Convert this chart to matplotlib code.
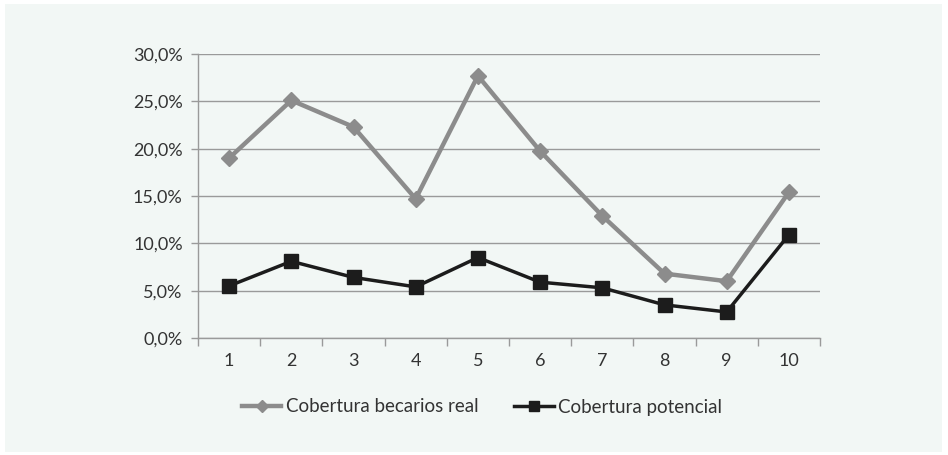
import matplotlib
matplotlib.use("Agg")
import matplotlib.pyplot as plt
from matplotlib.patches import Rectangle
from matplotlib.ticker import FuncFormatter, FixedLocator

categories = ["1", "2", "3", "4", "5", "6", "7", "8", "9", "10"]
becarios_real = [19.0, 25.1, 22.3, 14.7, 27.7, 19.75, 12.9, 6.8, 6.0, 15.4]
potencial = [5.5, 8.1, 6.4, 5.4, 8.5, 5.9, 5.3, 3.5, 2.75, 10.9]
series_names = ["Cobertura becarios real", "Cobertura potencial"]

plt.rcParams['font.family'] = ['Lato', 'DejaVu Sans']
bg = "#f2f7f5"
txt = "#333333"
grid_c = "#9a9a9a"

fig = plt.figure(figsize=(9.48, 4.55), dpi=100)
fig.patch.set_facecolor("white")
fig.add_artist(Rectangle((5/948, 1-452/455), (942-5)/948, (452-4)/455,
                         transform=fig.transFigure, facecolor=bg, edgecolor="none", zorder=-10))

ax = fig.add_axes([198/948, 1-338/455, (820-198)/948, (338-54)/455])
ax.set_facecolor("none")

x = list(range(1, len(categories) + 1))
ax.plot(x, becarios_real, color="#8c8c8c", lw=3.2, marker="D", ms=8.5,
        label=series_names[0], zorder=3)
ax.plot(x, potencial, color="#1c1c1c", lw=2.5, marker="s", ms=10.5,
        label=series_names[1], zorder=4)

ax.set_xlim(0.5, len(categories) + 0.5)
ax.set_ylim(0, 30)
ax.set_yticks([0, 5, 10, 15, 20, 25, 30])
ax.yaxis.set_major_formatter(FuncFormatter(lambda v, p: f"{v:.1f}%".replace(".", ",")))
ax.set_xticks(x)
ax.set_xticklabels(categories)
ax.xaxis.set_minor_locator(FixedLocator([i + 0.5 for i in range(0, len(categories) + 1)]))
ax.tick_params(axis="x", which="major", length=0, pad=11, labelsize=13, labelcolor=txt)
ax.tick_params(axis="x", which="minor", length=6, width=1, color=grid_c)
ax.tick_params(axis="y", length=5, width=1, color=grid_c, pad=6, labelsize=13, labelcolor=txt)

ax.grid(axis="y", color=grid_c, lw=1)
ax.set_axisbelow(True)
for s in ["top", "right"]:
    ax.spines[s].set_visible(False)
for s in ["left", "bottom"]:
    ax.spines[s].set_color(grid_c)
    ax.spines[s].set_linewidth(1)

leg = fig.legend(loc="center", bbox_to_anchor=(482/948, 1-407/455), ncol=2, frameon=False,
                 fontsize=13.5, handlelength=2.1, handletextpad=0.25, columnspacing=1.9,
                 labelcolor=txt)
for h in leg.legend_handles:
    h.set_markersize(h.get_markersize() * 0.75)

fig.savefig("out.png", dpi=100, facecolor=fig.get_facecolor())
